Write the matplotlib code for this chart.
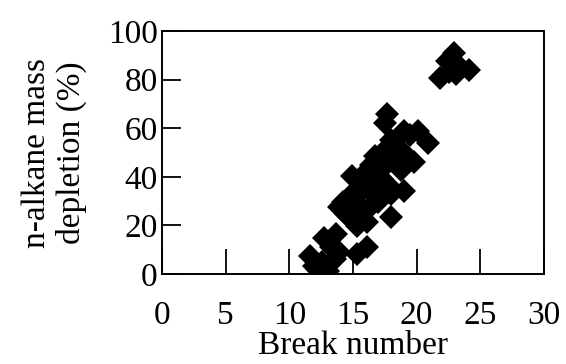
import matplotlib
matplotlib.use("Agg")
import matplotlib.pyplot as plt

# Data (break number, n-alkane mass depletion %)
break_number = [
    21.8, 22.5, 22.9, 23.1, 23.3, 23.1, 24.1, 22.4,
    17.7, 17.5, 19.0, 20.1, 19.5, 20.9, 18.0, 18.4, 17.3, 19.0, 18.0, 19.8,
    16.7, 16.4, 17.5, 18.8, 14.9, 15.9, 17.3, 17.8, 19.0, 18.0, 15.7, 16.4,
    14.9, 14.2, 15.1, 17.0, 16.4, 13.9, 14.4, 15.6, 18.0, 14.7, 15.3, 16.1,
    16.1, 15.3, 13.7, 12.7, 13.3, 13.9, 11.6, 11.9, 12.6, 13.0, 12.2, 13.6,
    18.6, 17.0, 16.0, 15.2,
]
depletion = [
    80.5, 83.0, 91.0, 87.0, 85.0, 82.5, 84.0, 87.5,
    65.8, 62.3, 59.0, 59.0, 57.0, 54.0, 55.0, 52.7, 50.0, 50.0, 47.0, 46.0,
    48.6, 45.0, 44.5, 43.0, 40.4, 41.0, 39.0, 36.3, 34.2, 32.9, 35.6, 34.0,
    33.0, 29.5, 30.0, 29.5, 28.0, 27.4, 25.3, 26.7, 23.3, 23.3, 19.9, 21.2,
    11.0, 8.2, 16.4, 15.0, 11.0, 8.9, 7.5, 3.4, 4.8, 1.4, 2.0, 6.2,
    47.5, 42.0, 38.0, 31.5,
]
x_ticks = [0, 5, 10, 15, 20, 25, 30]
y_ticks = [0, 20, 40, 60, 80, 100]

plt.rcParams['font.family'] = ['Liberation Serif', 'DejaVu Serif']

fig = plt.figure(figsize=(5.66, 3.64), dpi=100)
ax = fig.add_axes([162/566, 1 - 274/364, (544-162)/566, (274-31)/364])

ax.plot(break_number, depletion, linestyle='none', marker='D', markersize=12,
        color='black', markeredgewidth=0)

ax.set_xlim(0, 30)
ax.set_ylim(0, 100)
ax.set_xticks(x_ticks)
ax.set_yticks(y_ticks)
ax.tick_params(axis='x', direction='in', length=18, width=1.3, pad=19,
               labelsize=24, colors='black')
ax.tick_params(axis='y', direction='in', length=14, width=1.3, pad=3,
               labelsize=24, colors='black')
for s in ax.spines.values():
    s.set_linewidth(1.4)

ax.set_xlabel('Break number', fontsize=24, labelpad=0)
ax.set_ylabel('n-alkane mass\ndepletion (%)', fontsize=24, labelpad=15,
              linespacing=1.15)

fig.savefig('out.png', dpi=100)
